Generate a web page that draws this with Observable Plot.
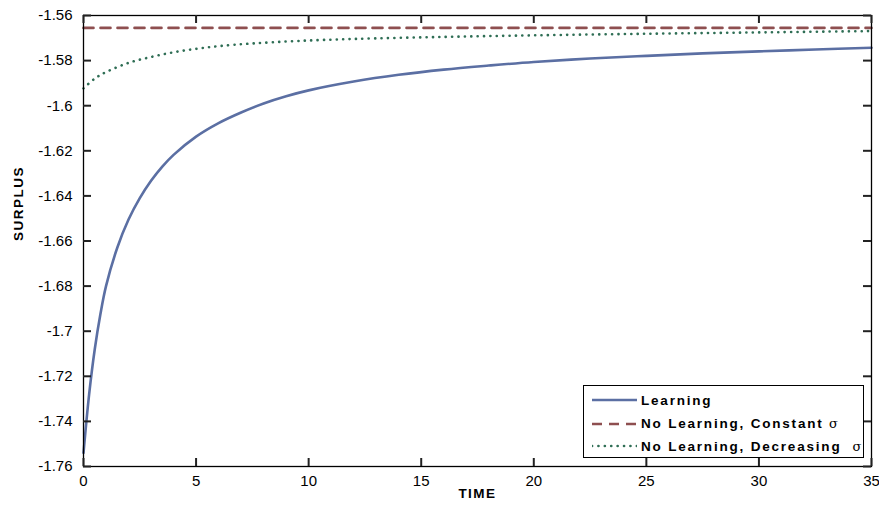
<!DOCTYPE html>
<html>
<head>
<meta charset="utf-8">
<script src="https://cdn.jsdelivr.net/npm/d3@7"></script>
<script src="https://cdn.jsdelivr.net/npm/@observablehq/plot@0.6"></script>
<style>
  body { margin: 0; background: #fff; }
  #wrap { position: relative; width: 879px; height: 507px; font-family: 'Liberation Sans', Arial, sans-serif; }
  #legend { position: absolute; left: 583px; top: 385px; width: 281px; height: 73px; border: 1.2px solid #000; background: #fff; box-sizing: border-box; }
  .row { position: absolute; left: 0; height: 20px; display: flex; align-items: center; }
  .row svg { margin-left: 8px; }
  .row span { margin-left: 4px; font-weight: bold; font-size: 13.5px; letter-spacing: 1.8px; white-space: pre; }
  .row span i { font-style: normal; font-weight: normal; font-family: 'DejaVu Serif', serif; font-size: 13px; letter-spacing: 0; }
</style>
</head>
<body>
<div id="wrap"></div>
<script>
// ---- data ----
const xTicks = [0, 5, 10, 15, 20, 25, 30, 35];
const yTicks = [-1.76, -1.74, -1.72, -1.7, -1.68, -1.66, -1.64, -1.62, -1.6, -1.58, -1.56];

const seriesNames = ["Learning", "No Learning, Constant ", "No Learning, Decreasing  "];
const seriesColors = ["#5b6fa3", "#8e4f50", "#2f6e55"];

const tLearning = [0, 0.25, 0.5, 0.75, 1, 1.5, 2, 2.5, 3, 3.5, 4, 5, 6, 7, 8, 9, 10, 12, 14, 16, 18, 20, 22.5, 25, 27.5, 30, 32.5, 35];
const vLearning = [-1.754, -1.728, -1.708, -1.6925, -1.680, -1.663, -1.6505, -1.6410, -1.6333, -1.6270, -1.6218, -1.6137, -1.6077, -1.603, -1.5990, -1.5958, -1.5932, -1.5893, -1.5863, -1.5840, -1.5822, -1.5806, -1.5791, -1.5779, -1.5768, -1.5759, -1.5751, -1.5743];

const tConstant = [0, 35];
const vConstant = [-1.5655, -1.5655];

const tDecreasing = [0, 0.5, 1, 2, 3, 4, 5, 6, 7.5, 9.5, 12, 16, 20, 25, 30, 35];
const vDecreasing = [-1.5923, -1.5880, -1.5851, -1.5810, -1.5784, -1.5763, -1.5748, -1.5736, -1.5724, -1.5713, -1.5704, -1.5695, -1.5688, -1.5681, -1.5675, -1.5669];

const learning = tLearning.map((t, i) => ({t, v: vLearning[i]}));
const constant = tConstant.map((t, i) => ({t, v: vConstant[i]}));
const decreasing = tDecreasing.map((t, i) => ({t, v: vDecreasing[i]}));

const fmt = d => String(+d.toFixed(2));

const W = 879, H = 507, mL = 83, mR = 8, mT = 15, mB = 41;
const innerW = W - mL - mR, innerH = H - mT - mB;
const tick = 8;

const chart = Plot.plot({
  width: W,
  height: H,
  marginLeft: mL,
  marginRight: mR,
  marginTop: mT,
  marginBottom: mB,
  style: { fontFamily: "'Liberation Sans', Arial, sans-serif", fontSize: "15px", color: "#000", background: "#fff", overflow: "visible" },
  x: { domain: [0, 35] },
  y: { domain: [-1.76, -1.56] },
  marks: [
    // tick labels
    Plot.axisX({ anchor: "bottom", ticks: xTicks, tickSize: 0, tickPadding: 9, tickFormat: fmt, label: null, fontSize: 15 }),
    Plot.axisY({ anchor: "left", ticks: yTicks, tickSize: 0, tickPadding: 11, tickFormat: fmt, label: null, fontSize: 15 }),
    Plot.line(learning, { x: "t", y: "v", stroke: seriesColors[0], strokeWidth: 2.6, curve: "catmull-rom" }),
    Plot.line(constant, { x: "t", y: "v", stroke: seriesColors[1], strokeWidth: 2.6, strokeDasharray: "10 7" }),
    Plot.line(decreasing, { x: "t", y: "v", stroke: seriesColors[2], strokeWidth: 2.6, strokeDasharray: "0.1 6.3", strokeLinecap: "round", curve: "catmull-rom" }),
    Plot.frame({ stroke: "#000", strokeWidth: 1.3 }),
    // inward ticks on all four sides
    Plot.tickX(xTicks, { x: d => d, insetTop: innerH - tick, stroke: "#222", strokeWidth: 2 }),
    Plot.tickX(xTicks, { x: d => d, insetBottom: innerH - tick, stroke: "#222", strokeWidth: 2 }),
    Plot.tickY(yTicks, { y: d => d, insetRight: innerW - tick, stroke: "#222", strokeWidth: 2 }),
    Plot.tickY(yTicks, { y: d => d, insetLeft: innerW - tick, stroke: "#222", strokeWidth: 2 }),
    Plot.text(["TIME"], { frameAnchor: "bottom", dy: 31, fontWeight: "bold", fontSize: 13.5 }),
    Plot.text(["SURPLUS"], { frameAnchor: "left", dx: -65, rotate: -90, fontWeight: "bold", fontSize: 13.5 })
  ]
});
chart.querySelectorAll("text").forEach(t => { if (t.textContent === "TIME" || t.textContent === "SURPLUS") t.setAttribute("letter-spacing", "1.5"); });

const wrap = document.getElementById("wrap");
wrap.appendChild(chart);

// legend
const legend = document.createElement("div");
legend.id = "legend";
const dashes = [null, "10 7", "0.1 6.3"];
const rowTops = [4, 27.5, 50];
seriesNames.forEach((name, i) => {
  const row = document.createElement("div");
  row.className = "row";
  row.style.top = rowTops[i] + "px";
  const dash = dashes[i] ? `stroke-dasharray="${dashes[i]}"` : "";
  row.innerHTML = `<svg width="45" height="6"><line x1="0" x2="45" y1="3" y2="3" stroke="${seriesColors[i]}" stroke-width="2.6" stroke-linecap="${i === 2 ? "round" : "butt"}" ${dash}/></svg><span>${name}${i > 0 ? "<i>σ</i>" : ""}</span>`;
  legend.appendChild(row);
});
wrap.appendChild(legend);
</script>
</body>
</html>
